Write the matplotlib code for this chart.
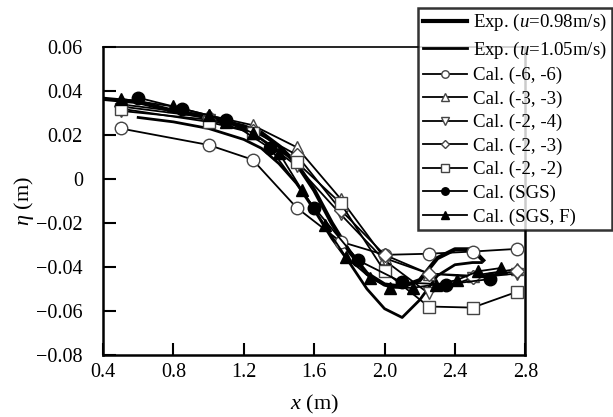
import matplotlib
matplotlib.use('Agg')
import matplotlib.pyplot as plt

plt.rcParams['font.family'] = ['Liberation Serif', 'DejaVu Serif']
plt.rcParams['mathtext.fontset'] = 'custom'
plt.rcParams['mathtext.it'] = 'Liberation Serif:italic'
plt.rcParams['mathtext.rm'] = 'Liberation Serif'

# experiments
exp98_x = [0.4, 0.6, 0.8, 1.0, 1.2, 1.3, 1.4, 1.5, 1.6, 1.7, 1.8, 1.9, 2.0, 2.1, 2.2, 2.3, 2.4, 2.5, 2.56]
exp98_y = [0.0365, 0.035, 0.031, 0.028, 0.024, 0.021, 0.015, 0.007, -0.005, -0.020, -0.033, -0.043, -0.048, -0.049, -0.046, -0.036, -0.032, -0.032, -0.037]
exp105_x = [0.6, 0.8, 1.0, 1.2, 1.3, 1.4, 1.5, 1.6, 1.7, 1.8, 1.9, 2.0, 2.1, 2.2, 2.3, 2.4, 2.5, 2.55]
exp105_y = [0.028, 0.026, 0.023, 0.018, 0.014, 0.007, -0.002, -0.014, -0.027, -0.038, -0.050, -0.059, -0.063, -0.055, -0.044, -0.039, -0.038, -0.038]

# calculations
cal_x = [0.5, 1.0, 1.25, 1.5, 1.75, 2.0, 2.25, 2.5, 2.75]
cal66 = [0.023, 0.0155, 0.0088, -0.013, -0.0285, -0.0345, -0.034, -0.033, -0.0318]
cal33 = [0.034, 0.029, 0.0245, 0.0145, -0.009, -0.036, -0.043, -0.044, -0.041]
cal24 = [0.031, 0.027, 0.021, 0.006, -0.016, -0.037, -0.052, -0.045, -0.043]
cal23 = [0.033, 0.028, 0.022, 0.011, -0.014, -0.0345, -0.043, -0.0445, -0.042]
cal22 = [0.032, 0.026, 0.021, 0.0077, -0.011, -0.042, -0.058, -0.0585, -0.0514]
sgs_x = [0.6, 0.85, 1.1, 1.35, 1.6, 1.85, 2.1, 2.35, 2.6]
sgs_y = [0.037, 0.032, 0.027, 0.014, -0.013, -0.037, -0.047, -0.048, -0.0455]
sgsf_x = [0.5, 0.8, 1.0, 1.1, 1.25, 1.4, 1.53, 1.66, 1.78, 1.92, 2.03, 2.16, 2.29, 2.41, 2.53, 2.66]
sgsf_y = [0.0365, 0.033, 0.029, 0.026, 0.021, 0.012, -0.005, -0.021, -0.0355, -0.045, -0.0495, -0.0495, -0.048, -0.046, -0.042, -0.0405]

xticks = [0.4, 0.8, 1.2, 1.6, 2.0, 2.4, 2.8]
xticklabels = ['0.4', '0.8', '1.2', '1.6', '2.0', '2.4', '2.8']
yticks = [0.06, 0.04, 0.02, 0, -0.02, -0.04, -0.06, -0.08]
yticklabels = ['0.06', '0.04', '0.02', '0', '\u22120.02', '\u22120.04', '\u22120.06', '\u22120.08']

fig = plt.figure(figsize=(6.13, 4.17), dpi=100)
ax = fig.add_axes([0.168, 0.149, 0.689, 0.738])

ax.plot(exp98_x, exp98_y, 'k-', lw=3, label='Exp. ($u$=0.98m/s)', zorder=3)
ax.plot(exp105_x, exp105_y, 'k-', lw=2, label='Exp. ($u$=1.05m/s)', zorder=3)

ms = 9
opn = dict(color='k', lw=1.3, markerfacecolor='white', markeredgecolor='#444444', markeredgewidth=1, markersize=ms, zorder=4)
ax.plot(cal_x, cal66, marker='o', label='Cal. (-6, -6)', **opn)
ax.plot(cal_x, cal33, marker='^', label='Cal. (-3, -3)', **opn)
ax.plot(cal_x, cal24, marker='v', label='Cal. (-2, -4)', **opn)
ax.plot(cal_x, cal23, marker='D', label='Cal. (-2, -3)', color='k', lw=1.3, markerfacecolor='white', markeredgecolor='#444444', markeredgewidth=1, markersize=7.5, zorder=4)
ax.plot(cal_x, cal22, marker='s', label='Cal. (-2, -2)', **opn)
ax.plot(sgs_x, sgs_y, marker='o', color='k', lw=1.3, markersize=ms, label='Cal. (SGS)', zorder=5)
ax.plot(sgsf_x, sgsf_y, marker='^', color='k', lw=1.3, markersize=ms, label='Cal. (SGS, F)', zorder=5)

ax.set_xlim(0.4, 2.8)
ax.set_ylim(-0.08, 0.06)
ax.set_xticks(xticks)
ax.set_xticklabels(xticklabels)
ax.set_yticks(yticks)
ax.set_yticklabels(yticklabels)
ax.tick_params(direction='in', length=9, width=1.5, labelsize=14.5)
ax.tick_params(axis='y', pad=14.5)
ax.tick_params(axis='x', pad=6)
for s in ['left', 'bottom', 'right']:
    ax.spines[s].set_linewidth(1.8)
ax.spines['top'].set_linewidth(1.2)

ax.set_xlabel('$x$ (m)', fontsize=16, labelpad=8)
ax.set_ylabel('$\\eta$ (m)', fontsize=16, labelpad=0)

leg = fig.legend(loc='upper right', bbox_to_anchor=(0.998, 0.982), fontsize=13.6,
                 frameon=True, fancybox=False, edgecolor='k', handlelength=2.3,
                 handletextpad=0.35, labelspacing=0.33, borderpad=0.25, markerscale=0.6,
                 borderaxespad=0)
leg.get_frame().set_linewidth(1.8)
leg.set_zorder(10)

fig.savefig('out.png', dpi=100)
